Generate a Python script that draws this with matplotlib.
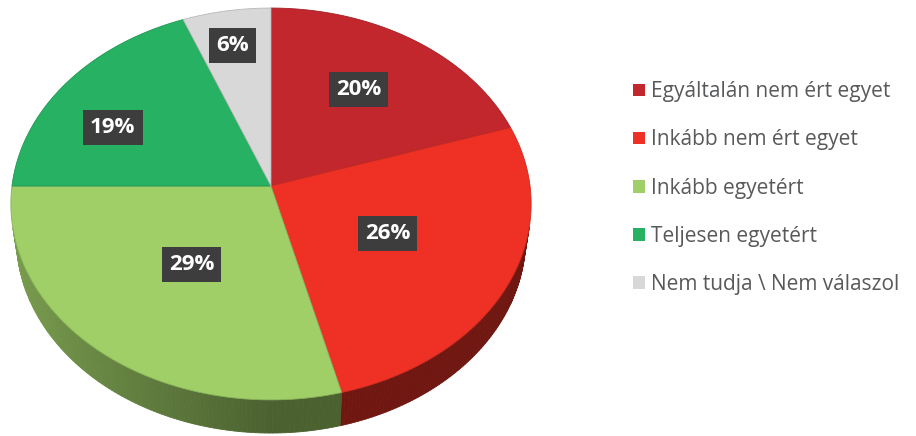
import numpy as np
import matplotlib
matplotlib.use("Agg")
import matplotlib.pyplot as plt
from matplotlib.patches import Polygon, Patch
from matplotlib.colors import to_rgb

categories = ["Egyáltalán nem ért egyet", "Inkább nem ért egyet", "Inkább egyetért",
              "Teljesen egyetért", "Nem tudja \\ Nem válaszol"]
values = [20, 26, 29, 19, 6]
labels = ["20%", "26%", "29%", "19%", "6%"]
colors = ["#c1272d", "#ee3124", "#a0cf67", "#26b163", "#d9d8d9"]

# 3d look of the pie (camera set-up, in pixels)
cx, cy = 271, 186
elev_s, elev_c = 0.75, 0.661
dist = 7.21
focal = 1867.6
thick = 0.207
# where excel put the labels: radius fraction and a small angle shift (deg)
label_r = [0.63, 0.50, 0.49, 0.70, 0.79]
label_shift = [-1.8, -0.4, -0.6, -8.0, -0.7]


def project(x, y, z):
    depth = dist + y * elev_c - z * elev_s
    return cx + focal * x / depth, cy - focal * (y * elev_s + z * elev_c) / depth


def shade(rgb, th):
    k = 0.47 + 0.29 * max(0.0, -np.sin(th))
    return tuple(v * k for v in rgb)


fig = plt.figure(figsize=(9.16, 4.36), dpi=100)
ax = fig.add_axes([0, 0, 1, 1])
ax.set_xlim(0, 916)
ax.set_ylim(436, 0)
ax.axis("off")

fracs = np.array(values, dtype=float) / sum(values)
edges = np.concatenate([[0], np.cumsum(fracs)]) * 2 * np.pi

# side walls, only the part facing the camera
vis_lim = -1.0 / (dist * elev_c)
for i in range(len(values)):
    th = np.linspace(edges[i], edges[i + 1], 120)
    base = to_rgb(colors[i])
    for a, b in zip(th[:-1], th[1:]):
        m = 0.5 * (a + b)
        if np.cos(m) >= vis_lim:
            continue
        p1 = project(np.sin(a), np.cos(a), 0)
        p2 = project(np.sin(b), np.cos(b), 0)
        p3 = project(np.sin(b), np.cos(b), -thick)
        p4 = project(np.sin(a), np.cos(a), -thick)
        col = shade(base, m)
        ax.add_patch(Polygon([p1, p2, p3, p4], closed=True, fc=col, ec=col, lw=0.6))

# top faces
for i in range(len(values)):
    th = np.linspace(edges[i], edges[i + 1], 200)
    pts = [project(0, 0, 0)] + [project(np.sin(t), np.cos(t), 0) for t in th]
    dark = tuple(v * 0.85 for v in to_rgb(colors[i]))
    ax.add_patch(Polygon(pts, closed=True, fc=colors[i], ec=dark, lw=0.6))

# value labels
for i in range(len(values)):
    mid = 0.5 * (edges[i] + edges[i + 1]) + np.radians(label_shift[i])
    r = label_r[i]
    lx, ly = project(r * np.sin(mid), r * np.cos(mid), 0)
    ax.text(lx, ly, labels[i], color="white", fontsize=16, fontweight="bold",
            family="Open Sans", ha="center", va="center",
            bbox=dict(boxstyle="square,pad=0.32", fc="#3d3d3d", ec="none"))

handles = [Patch(fc=c, ec="none") for c in colors]
fig.legend(handles, categories, loc="upper left", bbox_to_anchor=(625 / 916, 1 - 73 / 436),
           frameon=False, prop={"family": "Open Sans", "size": 15},
           labelcolor="#58595b", handlelength=0.57, handleheight=0.57,
           handletextpad=0.3, labelspacing=1.3, borderaxespad=0)

fig.savefig("out.png", dpi=100)
